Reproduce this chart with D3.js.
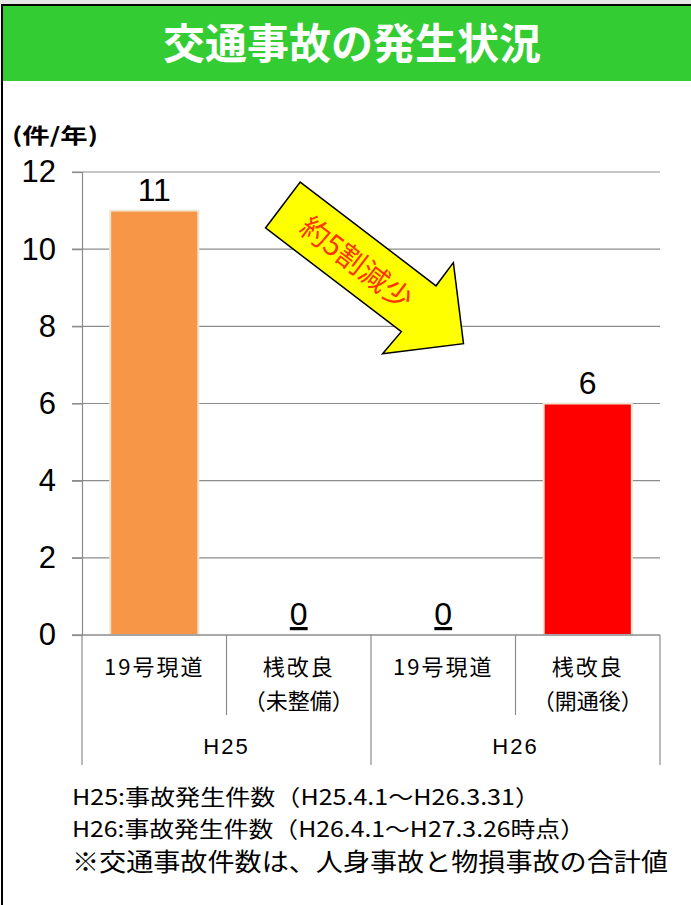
<!DOCTYPE html>
<html>
<head>
<meta charset="utf-8">
<script src="https://cdn.jsdelivr.net/npm/d3@7"></script>
<style>
  html, body { margin: 0; padding: 0; background: #fff; }
  svg { display: block; }
  text { font-family: "Noto Sans CJK JP", "Noto Sans", sans-serif; }
  .num { font-family: "Liberation Sans", Arial, sans-serif; }
</style>
</head>
<body>
<div id="chart"></div>
<script>
// chart data
const title = "交通事故の発生状況";
const unitLabel = "(件/年)";
const categories = [["19号現道"], ["桟改良", "（未整備）"], ["19号現道"], ["桟改良", "（開通後）"]];
const groups = ["H25", "H26"];
const values = [11, 0, 0, 6];
const barColors = ["#f79646", "#f79646", "#ff0000", "#ff0000"];
const yTicks = [0, 2, 4, 6, 8, 10, 12];
const notes = [
  "H25:事故発生件数（H25.4.1～H26.3.31）",
  "H26:事故発生件数（H26.4.1～H27.3.26時点）",
  "※交通事故件数は、人身事故と物損事故の合計値"
];
const noteWidths = [468, 513, 596];
const arrowLabel = "約5割減少";
// arrow outline in (category position, value) space
const arrowPts = [[1.51, 11.74], [2.45, 9.05], [2.57, 9.65], [2.64, 7.55], [2.08, 7.29], [2.21, 7.86], [1.27, 10.55]];

const W = 691, H = 905;
const plot = { left: 82, right: 660, top: 172, bottom: 635 };

const svg = d3.select("#chart").append("svg")
  .attr("width", W).attr("height", H);

// frame
svg.append("rect").attr("x", 0).attr("y", 0).attr("width", W).attr("height", 4).attr("fill", "#e6e6e6");
svg.append("rect").attr("x", 2).attr("y", 5).attr("width", W).attr("height", H)
  .attr("fill", "#fff").attr("stroke", "#000").attr("stroke-width", 2);

// header
svg.append("rect").attr("x", 3).attr("y", 6).attr("width", W - 3).attr("height", 75).attr("fill", "#33cc33");
svg.append("text").attr("x", 352).attr("y", 44).attr("dy", "0.36em")
  .attr("text-anchor", "middle").attr("fill", "#fff")
  .attr("font-size", 42).attr("font-weight", "bold").text(title);

svg.append("text").attr("x", 12).attr("y", 136).attr("dy", "0.35em")
  .attr("font-size", 21).attr("font-weight", "bold")
  .attr("textLength", 86).attr("lengthAdjust", "spacingAndGlyphs").text(unitLabel);

const y = d3.scaleLinear().domain([0, 12]).range([plot.bottom, plot.top]);
const x = d3.scaleBand().domain(d3.range(categories.length)).range([plot.left, plot.right]).padding(0);
const xl = d3.scaleLinear().domain([0, categories.length]).range([plot.left, plot.right]);

// grid
svg.append("g").selectAll("line").data(yTicks.filter(d => d > 0)).join("line")
  .attr("x1", plot.left - 10).attr("x2", plot.right)
  .attr("y1", d => y(d)).attr("y2", d => y(d))
  .attr("stroke", "#8c8c8c").attr("stroke-width", 1.2);

// y axis
const yAxis = svg.append("g").attr("transform", `translate(${plot.left},0)`)
  .call(d3.axisLeft(y).tickValues(yTicks).tickSize(10).tickPadding(16));
yAxis.select(".domain").attr("stroke", "#8c8c8c").attr("stroke-width", 1.2);
yAxis.selectAll(".tick line").attr("stroke", "#8c8c8c").attr("stroke-width", 1.2);
yAxis.selectAll(".tick text").attr("class", "num").attr("font-size", 31).attr("fill", "#000");

// bars
svg.append("g").selectAll("rect").data(values).join("rect")
  .attr("x", (d, i) => x(i) + x.bandwidth() * 0.195)
  .attr("width", x.bandwidth() * 0.61)
  .attr("y", d => y(d))
  .attr("height", d => y(0) - y(d))
  .attr("fill", (d, i) => barColors[i])
  .attr("stroke", "#efe6d6").attr("stroke-width", d => d > 0 ? 2 : 0);

// value labels
svg.append("g").selectAll("text").data(values).join("text")
  .attr("class", "num")
  .attr("x", (d, i) => x(i) + x.bandwidth() / 2)
  .attr("y", d => y(d) - 10)
  .attr("text-anchor", "middle").attr("font-size", 32)
  .attr("text-decoration", d => d === 0 ? "underline" : null)
  .text(d => d);

// category axis
const axisColor = "#8c8c8c";
svg.append("line").attr("x1", plot.left - 10).attr("x2", plot.right)
  .attr("y1", y(0)).attr("y2", y(0)).attr("stroke", axisColor).attr("stroke-width", 1.5);
svg.append("g").selectAll("line").data(d3.range(categories.length + 1)).join("line")
  .attr("x1", d => xl(d)).attr("x2", d => xl(d))
  .attr("y1", y(0))
  .attr("y2", d => d % 2 === 0 ? 765 : 715)
  .attr("stroke", axisColor).attr("stroke-width", 1.2);

const catG = svg.append("g").selectAll("text").data(categories).join("text")
  .attr("x", (d, i) => x(i) + x.bandwidth() / 2)
  .attr("y", 667)
  .attr("text-anchor", "middle").attr("font-size", 22);
catG.selectAll("tspan").data((d, i) => d.map(t => ({ t, i }))).join("tspan")
  .attr("x", d => x(d.i) + x.bandwidth() / 2)
  .attr("dy", (d, j) => j === 0 ? "0.35em" : "1.55em")
  .attr("letter-spacing", d => d.t.startsWith("（") ? 0 : 2)
  .text(d => d.t);

svg.append("g").selectAll("text").data(groups).join("text")
  .attr("class", "num")
  .attr("x", (d, i) => xl(i * 2 + 1))
  .attr("y", 746).attr("dy", "0.35em")
  .attr("text-anchor", "middle").attr("font-size", 22)
  .attr("letter-spacing", 2)
  .text(d => d);

// arrow annotation
const arrowLine = d3.line().x(d => xl(d[0])).y(d => y(d[1])).curve(d3.curveLinearClosed);
svg.append("path").datum(arrowPts).attr("d", arrowLine)
  .attr("fill", "#ffff00").attr("stroke", "#000").attr("stroke-width", 1.5);
svg.append("text")
  .attr("transform", `translate(${xl(1.9)},${y(9.64)}) rotate(37.5)`)
  .attr("text-anchor", "middle").attr("dy", "0.36em")
  .attr("font-size", 29).attr("fill", "#ff3300").text(arrowLabel);

// notes
svg.append("g").selectAll("text").data(notes).join("text")
  .attr("x", 72)
  .attr("y", (d, i) => [797, 829, 862][i]).attr("dy", "0.36em")
  .attr("font-size", (d, i) => i === 2 ? 25 : 22)
  .attr("textLength", (d, i) => noteWidths[i])
  .attr("lengthAdjust", "spacingAndGlyphs")
  .text(d => d);
</script>
</body>
</html>
